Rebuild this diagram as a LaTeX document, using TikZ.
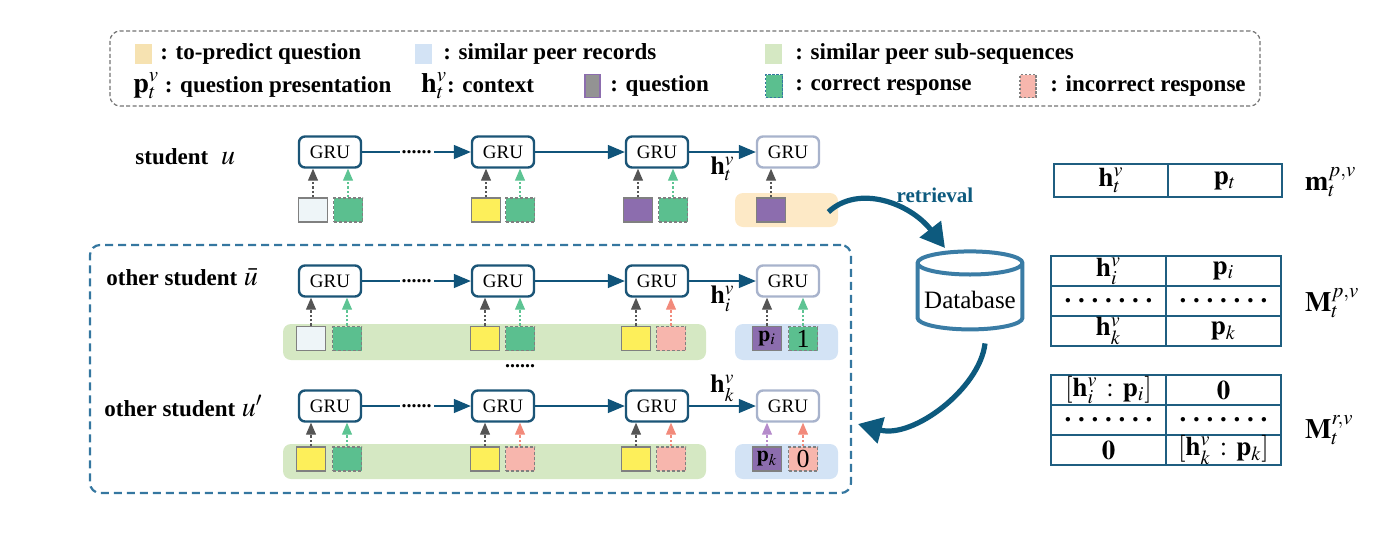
\documentclass[tikz,border=0pt]{standalone}
\usepackage{mathptmx}
\usepackage{fontspec}
\setmainfont{Liberation Serif}
\usetikzlibrary{shapes.geometric,arrows.meta,positioning,calc}

\definecolor{grublue}{HTML}{1B5577}
\definecolor{grugray}{HTML}{A8B3CC}
\definecolor{flowblue}{HTML}{10547A}
\definecolor{retrblue}{HTML}{0D5A7E}
\definecolor{dbblue}{HTML}{3A7CA5}
\definecolor{tabblue}{HTML}{1F5E80}
\definecolor{boxblue}{HTML}{3577A0}
\definecolor{qyellow}{HTML}{FDEF5A}
\definecolor{qlight}{HTML}{EEF5F8}
\definecolor{qpurple}{HTML}{8C6DAE}
\definecolor{rgreen}{HTML}{5BBF8F}
\definecolor{rpink}{HTML}{F7B6AD}
\definecolor{tanbg}{HTML}{FDE9C6}
\definecolor{tanlg}{HTML}{F6E2B1}
\definecolor{bluebg}{HTML}{D3E3F5}
\definecolor{greenbg}{HTML}{D5E8C3}
\definecolor{qarrow}{HTML}{555555}
\definecolor{carrow}{HTML}{5DC493}
\definecolor{iarrow}{HTML}{F28A7B}
\definecolor{parrow}{HTML}{B58BCB}

\begin{document}
\begin{tikzpicture}[
    x=0.5pt, y=-0.5pt,
    gru/.style={draw=grublue, line width=1.2pt, rounded corners=3pt, fill=white, minimum width=31pt, minimum height=15.5pt, inner sep=0pt, font=\fontsize{9.5}{10}\selectfont, text depth=0pt},
    grulast/.style={gru, draw=grugray},
    ques/.style={draw=gray, line width=0.7pt, minimum width=14.5pt, minimum height=12pt, inner sep=0pt},
    resp/.style={ques, dash pattern=on 1.5pt off 1pt},
    bg/.style={rounded corners=4pt, inner sep=0pt},
    flow/.style={-{Triangle[length=8.5pt,width=7pt]}, draw=flowblue, line width=0.7pt},
    feed/.style={-{Triangle[length=6pt,width=5pt]}, dash pattern=on 1.2pt off 1pt, line width=0.6pt},
    dots/.style={fill=white, inner sep=1pt, font=\bfseries\fontsize{10}{10}\selectfont},
    lbl/.style={font=\bfseries\fontsize{11.5}{13}\selectfont, inner sep=1pt},
    lgsq/.style={inner sep=0pt, minimum width=8.5pt, minimum height=10pt},
    hlab/.style={font=\fontsize{13}{14}\selectfont, inner sep=1pt},
    cell/.style={draw=tabblue, line width=1.2pt, outer sep=0pt, inner sep=0pt, minimum width=57.5pt, minimum height=15pt, font=\fontsize{13.5}{15}\selectfont},
    tlab/.style={font=\fontsize{14}{15}\selectfont}
]
\useasboundingbox (0,0) rectangle (1382,536);

% Legend
\node[draw=gray!90!black, dash pattern=on 2pt off 1.2pt, line width=0.6pt, rounded corners=5pt, minimum width=575pt, minimum height=37.5pt] (legend) at (685,68.5) {};
\node[lgsq, fill=tanlg] (lgtan) at (143.5,54) {};
\node[lbl, anchor=west] at (158,54) {: to-predict question};
\node[lgsq, fill=bluebg] (lgblue) at (423.5,54) {};
\node[lbl, anchor=west] at (441,54) {: similar peer records};
\node[lgsq, fill=greenbg] (lggreen) at (773.5,54) {};
\node[lbl, anchor=west] at (793,54) {: similar peer sub-sequences};
\node[lbl, anchor=west] at (131,86) {{\fontsize{14}{15}\selectfont$\mathbf{p}_t^v$} : question presentation};
\node[lbl, anchor=west] at (419,86) {{\fontsize{14}{15}\selectfont$\mathbf{h}_t^v$}: context};
\node[lgsq, fill=gray!85, draw=qpurple, line width=0.7pt, minimum width=7.5pt, minimum height=11.5pt] (lgques) at (592.5,86) {};
\node[lbl, anchor=west] at (608,86) {: question};
\node[lgsq, fill=rgreen, draw=boxblue, dash pattern=on 1.2pt off 0.8pt, line width=0.6pt, minimum height=11.5pt] (lgcorr) at (774,86) {};
\node[lbl, anchor=west] at (793,86) {: correct response};
\node[lgsq, fill=rpink, draw=gray, dash pattern=on 1.2pt off 0.8pt, line width=0.6pt, minimum width=8pt, minimum height=11.5pt] (lgincorr) at (1028,86) {};
\node[lbl, anchor=west] at (1048,86) {: incorrect response};

% Peer students frame
\node[draw=boxblue, line width=1.1pt, dash pattern=on 4pt off 2.5pt, rounded corners=5pt, minimum width=380.5pt, minimum height=124pt] (peers) at (470.5,369) {};

% Student u
\node[lbl, anchor=west] at (133,157) {student\;\;\fontsize{14}{15}\selectfont$u$};
\node[bg, fill=tanbg, minimum width=51.5pt, minimum height=17pt] (ubg) at (786.5,210) {};
\node[gru] (ug1) at (330,152) {GRU};
\node[gru] (ug2) at (503,152) {GRU};
\node[gru] (ug3) at (657,152) {GRU};
\node[grulast] (ug4) at (788,152) {GRU};
\node[ques, fill=qlight] (uq1) at (313,210) {};
\node[resp, fill=rgreen] (ur1) at (348,210) {};
\node[ques, fill=qyellow] (uq2) at (486,210) {};
\node[resp, fill=rgreen] (ur2) at (520,210) {};
\node[ques, fill=qpurple] (uq3) at (638,210) {};
\node[resp, fill=rgreen] (ur3) at (673,210) {};
\node[ques, fill=qpurple] (uq4) at (771,210) {};

\draw[flow] (ug1) -- node[dots] {......} (ug2);
\draw[flow] (ug2) -- (ug3);
\draw[flow] (ug3) -- node[hlab, below=1pt] {$\mathbf{h}_t^v$} (ug4);
\foreach \n in {1,2,3,4}
  \draw[feed, qarrow] (uq\n) -- (uq\n |- ug\n.south);
\foreach \n in {1,2,3}
  \draw[feed, carrow] (ur\n) -- (ur\n |- ug\n.south);

% Other student u bar
\node[lbl, anchor=west] at (104,277) {other student\;\fontsize{14}{15}\selectfont$\bar{u}$};
\node[bg, fill=greenbg, minimum width=211.5pt, minimum height=18pt] (bbg) at (494.5,342) {};
\node[bg, fill=bluebg, minimum width=51.5pt, minimum height=18pt] (bbgp) at (786.5,342) {};
\node[gru] (bg1) at (330,281) {GRU};
\node[gru] (bg2) at (503,281) {GRU};
\node[gru] (bg3) at (657,281) {GRU};
\node[grulast] (bg4) at (788,281) {GRU};
\node[ques, fill=qlight] (bq1) at (311,338.5) {};
\node[resp, fill=rgreen] (br1) at (347,338.5) {};
\node[ques, fill=qyellow] (bq2) at (485,338.5) {};
\node[resp, fill=rgreen] (br2) at (520,338.5) {};
\node[ques, fill=qyellow] (bq3) at (636,338.5) {};
\node[resp, fill=rpink] (br3) at (671,338.5) {};
\node[ques, fill=qpurple, font=\fontsize{11}{12}\selectfont] (bq4) at (767,338.5) {$\mathbf{p}_i$};
\node[resp, fill=rgreen, font=\fontsize{13}{13}\selectfont] (br4) at (803,338.5) {1};

\draw[flow] (bg1) -- node[dots] {......} (bg2);
\draw[flow] (bg2) -- (bg3);
\draw[flow] (bg3) -- node[hlab, below=1pt] {$\mathbf{h}_i^v$} (bg4);
\foreach \n in {1,2,3,4}
  \draw[feed, qarrow] (bq\n) -- (bq\n |- bg\n.south);
\draw[feed, carrow] (br1) -- (br1 |- bg1.south);
\draw[feed, carrow] (br2) -- (br2 |- bg2.south);
\draw[feed, iarrow] (br3) -- (br3 |- bg3.south);
\draw[feed, carrow] (br4) -- (br4 |- bg4.south);

\node[dots, fill=none] (vdots) at (520,366) {......};

% Other student u prime
\node[lbl, anchor=west] at (102,406) {other student\;\fontsize{14}{15}\selectfont$u'$};
\node[bg, fill=greenbg, minimum width=211.5pt, minimum height=17.5pt] (pbg) at (494.5,461.5) {};
\node[bg, fill=bluebg, minimum width=51.5pt, minimum height=17.5pt] (pbgp) at (786.5,461.5) {};
\node[gru] (pg1) at (330,406) {GRU};
\node[gru] (pg2) at (503,406) {GRU};
\node[gru] (pg3) at (657,406) {GRU};
\node[grulast] (pg4) at (788,406) {GRU};
\node[ques, fill=qyellow] (pq1) at (311,459) {};
\node[resp, fill=rgreen] (pr1) at (347,459) {};
\node[ques, fill=qyellow] (pq2) at (485,459) {};
\node[resp, fill=rpink] (pr2) at (520,459) {};
\node[ques, fill=qyellow] (pq3) at (636,459) {};
\node[resp, fill=rpink] (pr3) at (671,459) {};
\node[ques, fill=qpurple, font=\fontsize{11}{12}\selectfont] (pq4) at (767,459) {$\mathbf{p}_k$};
\node[resp, fill=rpink, font=\fontsize{13}{13}\selectfont] (pr4) at (803,459) {0};

\draw[flow] (pg1) -- node[dots] {......} (pg2);
\draw[flow] (pg2) -- (pg3);
\draw[flow] (pg3) -- node[hlab, above=1pt] {$\mathbf{h}_k^v$} (pg4);
\foreach \n in {1,2,3}
  \draw[feed, qarrow] (pq\n) -- (pq\n |- pg\n.south);
\draw[feed, parrow] (pq4) -- (pq4 |- pg4.south);
\draw[feed, carrow] (pr1) -- (pr1 |- pg1.south);
\draw[feed, iarrow] (pr2) -- (pr2 |- pg2.south);
\draw[feed, iarrow] (pr3) -- (pr3 |- pg3.south);
\draw[feed, iarrow] (pr4) -- (pr4 |- pg4.south);

% Database and retrieval
\node[cylinder, shape border rotate=90, aspect=0.22, draw=dbblue, line width=2pt, minimum width=51pt, minimum height=39pt, font=\fontsize{12.5}{13}\selectfont] (db) at (970,300) {Database};
\coordinate (rtip) at (945,248);
\coordinate (btip) at (858,424);
\draw[retrblue, line width=2.6pt, -{Triangle[length=12pt,width=13pt]}] ($(ubg.east)+(-10,2)$) .. controls +(30,-28) and +(-35,-45) .. (rtip);
\node[font=\bfseries\fontsize{10.5}{12}\selectfont, text=retrblue] (retr) at (935,195) {retrieval};
\draw[retrblue, line width=2.6pt, -{Triangle[length=12pt,width=13pt]}] ($(db.south)+(15,12)$) .. controls +(-5,45) and +(55,15) .. (btip);

% Query vector
\node[cell, minimum width=57pt, minimum height=16.5pt] (qa) at (1111,180.5) {$\mathbf{h}_t^v$};
\node[cell, minimum width=57pt, minimum height=16.5pt, right=0pt of qa] (qb) {$\mathbf{p}_t$};
\node[tlab, anchor=west] at (1298,182) {$\mathbf{m}_t^{p,v}$};

% Peer memory
\node[cell] (ma1) at (1108.5,271) {$\mathbf{h}_i^v$};
\node[cell, right=0pt of ma1] (mb1) {$\mathbf{p}_i$};
\node[cell, below=0pt of ma1] (ma2) {\textbf{.\ .\ .\ .\ .\ .\ .}};
\node[cell, right=0pt of ma2] (mb2) {\textbf{.\ .\ .\ .\ .\ .\ .}};
\node[cell, below=0pt of ma2] (ma3) {$\mathbf{h}_k^v$};
\node[cell, right=0pt of ma3] (mb3) {$\mathbf{p}_k$};
\node[tlab, anchor=west] at (1298,303) {$\mathbf{M}_t^{p,v}$};

% Response memory
\node[cell] (ra1) at (1108.5,390) {$[\mathbf{h}_i^v\,:\,\mathbf{p}_i]$};
\node[cell, right=0pt of ra1] (rb1) {$\mathbf{0}$};
\node[cell, below=0pt of ra1] (ra2) {\textbf{.\ .\ .\ .\ .\ .\ .}};
\node[cell, right=0pt of ra2] (rb2) {\textbf{.\ .\ .\ .\ .\ .\ .}};
\node[cell, below=0pt of ra2] (ra3) {$\mathbf{0}$};
\node[cell, right=0pt of ra3] (rb3) {$[\mathbf{h}_k^v\,:\,\mathbf{p}_k]$};
\node[tlab, anchor=west] at (1298,430) {$\mathbf{M}_t^{r,v}$};

\end{tikzpicture}
\end{document}
